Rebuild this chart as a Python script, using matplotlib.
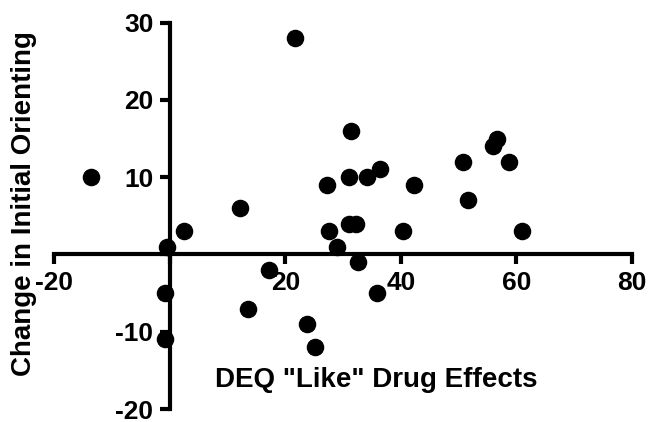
import matplotlib
matplotlib.use("Agg")
import matplotlib.pyplot as plt

deq_like = [-13.6, 21.6, 31.4, 31.0, 27.2, 12.2, 2.4, 27.6, 31.0, 32.2,
            29.0, -0.6, 17.1, 32.6, -0.9, 13.5, 23.8, 25.1, -0.8, 34.2,
            36.4, 42.2, 50.8, 58.7, 56.7, 56.0, 51.6, 40.3, 61.0, 35.9]
orient_change = [10, 28, 16, 10, 9, 6, 3, 3, 4, 4,
                 1, 1, -2, -1, -5, -7, -9, -12, -11, 10,
                 11, 9, 12, 12, 15, 14, 7, 3, 3, -5]
x_ticks = [-20, 0, 20, 40, 60, 80]
x_ticklabels = ["-20", "", "20", "40", "60", "80"]
y_ticks = [-20, -10, 0, 10, 20, 30]
y_ticklabels = ["-20", "-10", "", "10", "20", "30"]

plt.rcParams['font.family'] = ['Liberation Sans', 'DejaVu Sans']
plt.rcParams['font.weight'] = 'bold'

fig = plt.figure(figsize=(6.51, 4.22), dpi=100)
ax = fig.add_axes([0.0837, 0.0308, 0.8871, 0.9154])

ax.scatter(deq_like, orient_change, s=135, color='black', zorder=3, clip_on=False)

ax.set_xlim(-20, 80)
ax.set_ylim(-20, 30)
ax.spines['left'].set_position(('data', 0))
ax.spines['bottom'].set_position(('data', 0))
ax.spines['right'].set_visible(False)
ax.spines['top'].set_visible(False)
for sp in ('left', 'bottom'):
    ax.spines[sp].set_linewidth(3)
    ax.spines[sp].set_capstyle('projecting')

ax.set_xticks(x_ticks)
ax.set_xticklabels(x_ticklabels)
ax.set_yticks(y_ticks)
ax.set_yticklabels(y_ticklabels)
ax.tick_params(axis='both', direction='out', length=7, width=3, labelsize=19, pad=5)
for lbl in ax.get_xticklabels() + ax.get_yticklabels():
    lbl.set_fontweight('bold')

ax.set_xlabel('DEQ "Like" Drug Effects', fontsize=20, fontweight='bold')
ax.set_ylabel('Change in Initial Orienting', fontsize=20, fontweight='bold')
ax.xaxis.set_label_coords(0.558, 0.108)
ax.yaxis.set_label_coords(-0.031, 0.533)

fig.savefig("out.png", dpi=100)
